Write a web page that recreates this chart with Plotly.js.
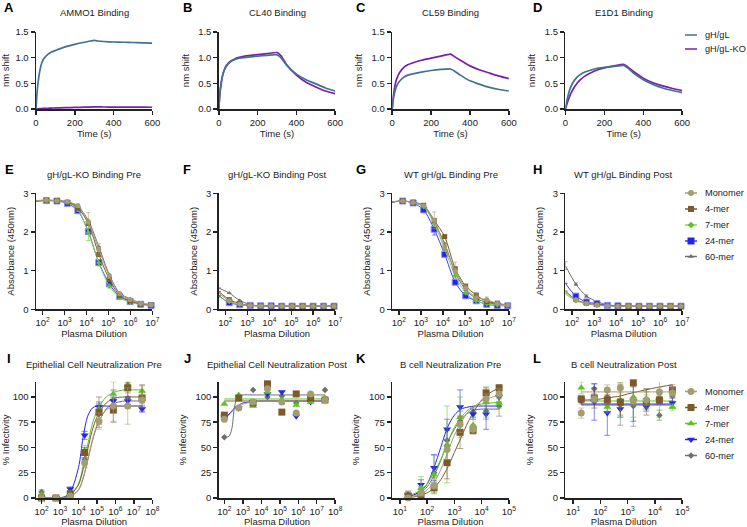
<!DOCTYPE html>
<html>
<head>
<meta charset="utf-8">
<script src="https://cdn.plot.ly/plotly-3.0.1.min.js"></script>
<style>
html,body{margin:0;padding:0;background:#ffffff;}
#chart{width:747px;height:527px;}
</style>
</head>
<body>
<div id="chart"></div>
<script>
// ================= DATA =================
// --- Row 1: BLI kinetics (nm shift vs time, s)
const kinTime = [0,5,10,20,30,40,60,80,100,150,200,250,300,320,350,400,450,500,550,600];
const kinNames = ['gH/gL','gH/gL-KO'];
const ammo1_gHgL = [0,0.3,0.5,0.75,0.9,0.98,1.06,1.11,1.14,1.21,1.26,1.30,1.335,1.325,1.315,1.305,1.30,1.295,1.29,1.285];
const ammo1_KO   = [0,0.003,0.005,0.008,0.01,0.012,0.015,0.018,0.02,0.025,0.03,0.035,0.04,0.04,0.039,0.038,0.037,0.036,0.035,0.034];
const cl40_gHgL  = [0,0.28,0.45,0.66,0.77,0.84,0.92,0.96,0.985,1.01,1.03,1.045,1.055,1.0,0.85,0.68,0.57,0.49,0.41,0.35];
const cl40_KO    = [0,0.26,0.43,0.66,0.78,0.85,0.93,0.97,1.0,1.04,1.06,1.08,1.10,1.04,0.86,0.66,0.52,0.43,0.35,0.30];
const cl59_gHgL  = [0,0.17,0.28,0.42,0.50,0.55,0.62,0.66,0.68,0.72,0.75,0.77,0.78,0.74,0.66,0.55,0.48,0.42,0.38,0.35];
const cl59_KO    = [0,0.22,0.36,0.55,0.65,0.72,0.81,0.86,0.89,0.95,0.99,1.03,1.07,1.02,0.95,0.84,0.76,0.70,0.64,0.59];
const e1d1_gHgL  = [0,0.11,0.20,0.35,0.45,0.52,0.62,0.68,0.72,0.78,0.81,0.83,0.85,0.80,0.70,0.57,0.48,0.41,0.36,0.32];
const e1d1_KO    = [0,0.06,0.12,0.23,0.32,0.39,0.50,0.58,0.64,0.74,0.80,0.84,0.87,0.82,0.73,0.60,0.51,0.45,0.40,0.36];
const timeTicks = [0,200,400,600];
const shiftTicks = [0,0.5,1,1.5];

// --- Series (rows 2 and 3)
const seriesNames = ['Monomer','4-mer','7-mer','24-mer','60-mer'];

// --- Row 2: ELISA absorbance (450nm) vs plasma dilution
const elisaDil = [50,150,450,1350,4050,12150,36450,109350,328050,984150,2952450,8857350];
// E: gH/gL-KO Binding Pre
const eMon   = [2.81,2.82,2.81,2.78,2.68,2.25,1.55,0.86,0.40,0.25,0.15,0.12];
const eFour  = [2.81,2.82,2.81,2.77,2.62,2.22,1.42,0.78,0.36,0.22,0.14,0.11];
const eSeven = [2.80,2.81,2.80,2.76,2.58,1.98,1.20,0.60,0.30,0.18,0.12,0.10];
const e24    = [2.79,2.81,2.80,2.74,2.55,2.01,1.21,0.66,0.33,0.20,0.13,0.10];
const e60    = [2.81,2.82,2.81,2.78,2.66,2.30,1.62,0.90,0.42,0.27,0.16,0.12];
const eMonErr   = [0,0,0,0,0.05,0.25,0.15,0.06,0.04,0.04,0,0];
const eSevenErr = [0,0,0,0,0.05,0.20,0.08,0.05,0,0,0,0];
// F: gH/gL-KO Binding Post
const fMon   = [0.42,0.22,0.14,0.10,0.09,0.09,0.08,0.08,0.08,0.08,0.08,0.08];
const fFour  = [0.46,0.25,0.15,0.10,0.09,0.09,0.08,0.08,0.08,0.08,0.08,0.08];
const fSeven = [0.32,0.20,0.13,0.10,0.09,0.09,0.08,0.08,0.08,0.08,0.08,0.08];
const f24    = [0.35,0.17,0.12,0.10,0.09,0.09,0.08,0.08,0.08,0.08,0.08,0.08];
const f60    = [0.55,0.42,0.23,0.12,0.09,0.09,0.08,0.08,0.08,0.08,0.08,0.08];
// G: WT gH/gL Binding Pre
const gMon   = [2.78,2.80,2.76,2.68,2.30,1.62,1.00,0.55,0.30,0.25,0.15,0.11];
const gFour  = [2.78,2.80,2.77,2.69,2.30,1.88,1.05,0.60,0.37,0.20,0.16,0.10];
const gSeven = [2.78,2.80,2.76,2.65,2.22,1.55,0.87,0.42,0.22,0.14,0.11,0.10];
const g24    = [2.77,2.80,2.75,2.57,2.07,1.42,0.70,0.35,0.22,0.13,0.10,0.09];
const g60    = [2.78,2.80,2.76,2.66,2.25,1.70,0.95,0.50,0.28,0.18,0.13,0.11];
const gMonErr  = [0,0,0,0,0.22,0.1,0.22,0.08,0.1,0.07,0.03,0];
const g24Err   = [0,0,0,0,0.15,0.05,0.05,0,0,0,0,0];
// H: WT gH/gL Binding Post
const hMon   = [0.45,0.24,0.15,0.11,0.09,0.08,0.08,0.08,0.08,0.08,0.08,0.08];
const hFour  = [0.47,0.25,0.16,0.12,0.10,0.09,0.08,0.08,0.08,0.08,0.08,0.08];
const hSeven = [0.40,0.22,0.14,0.10,0.09,0.08,0.08,0.08,0.08,0.08,0.08,0.08];
const h24    = [0.67,0.34,0.19,0.15,0.10,0.09,0.08,0.08,0.08,0.08,0.08,0.08];
const h60    = [1.13,0.65,0.34,0.20,0.12,0.09,0.08,0.08,0.08,0.08,0.08,0.08];
const h60Err = [0.1,0.03,0.03,0,0,0,0,0,0,0,0,0];
const elisaTickVals = [1e2,1e3,1e4,1e5,1e6,1e7];
const elisaTickText = ['10<sup>2</sup>','10<sup>3</sup>','10<sup>4</sup>','10<sup>5</sup>','10<sup>6</sup>','10<sup>7</sup>'];
const absTicks = [0,1,2,3];

// --- Row 3: Neutralization (% infectivity) vs plasma dilution
const epiDil = [100,600,3600,21600,129600,777600,4665600,27993600];
const epiFitLog = [2,2.5,3,3.5,4,4.25,4.5,4.75,5,5.5,6,6.5,7,7.45];
const jFitLog   = [2,2.25,2.4,2.55,2.7,3,3.5,4,5,6,7,7.45];
// I: Epithelial Cell Neutralization Pre
const iMon   = [0,0,2,35,76,91,91,97];
const iFour  = [0,0,4,45,85,87,109,99];
const iSeven = [3,0,5,47,88,103,112,106];
const i24    = [0,0,9,62,90,96,96,88];
const i60    = [6,0,4,38,83,97,99,99];
const iMonErr   = [0,0,2,5,8,15,18,5];
const iFourErr  = [0,0,2,5,15,12,5,13];
const iSevenErr = [3,0,2,5,5,12,3,5];
const i24Err    = [0,0,2,4,5,4,4,3];
const i60Err    = [2,0,2,5,10,10,10,5];
const iMonFit   = [0,0,0,1,8,20,38,57,72,87,91,91,91,91];
const iFourFit  = [0,0,0,2,13,28,48,67,80,94,99,100,100,100];
const iSevenFit = [0,0,0,2,14,31,53,73,86,100,105,107,107,107];
const i24Fit    = [0,0,0,4,30,60,81,89,91,91,91,91,91,91];
const i60Fit    = [0,0,0,1,8,19,37,56,71,88,94,96,96,96];
// J: Epithelial Cell Neutralization Post
const jMon   = [78,89,95,108,95,84,103,97];
const jFour  = [82,99,94,113,85,103,99,97];
const jSeven = [93,102,91,105,97,92,95,99];
const j24    = [80,89,95,103,105,81,95,97];
const j60    = [60,89,107,100,101,94,97,107];
const jMonFit   = [78,82,85,88,90,93,95,96,96,96,96,96];
const jFourFit  = [96,96,96,96,96,96,96,96,96,96,96,96];
const jSevenFit = [98,98,98,98,98,98,98,98,98,98,98,98];
const j24Fit    = [79,83,86,89,91,94,95,96,96,96,96,96];
const j60Fit    = [60,61,68,90,100,102,102,102,102,102,102,102];
// K: B cell Neutralization Pre
const bDil = [20,60,180,540,1620,4860,14580,43740];
const bFitLog = [1.3,1.5,1.78,2,2.25,2.5,2.75,3,3.25,3.5,3.75,4,4.3,4.64];
const kMon   = [0,5,12,48,73,68,98,103];
const kFour  = [2,3,10,35,65,67,104,109];
const kSeven = [2,10,23,53,80,72,95,94];
const k24    = [3,13,30,68,90,83,83,100];
const k60    = [3,6,25,57,76,85,86,91];
const kMonErr   = [2,3,3,10,8,5,5,5];
const kFourErr  = [2,3,5,16,16,3,5,3];
const kSevenErr = [2,11,19,38,20,8,15,5];
const k24Err    = [3,5,13,10,17,5,15,5];
const k60Err    = [4,5,5,10,10,5,8,10];
const kMonFit   = [1,2,4,8,15,28,45,62,75,85,91,96,99,102];
const kFourFit  = [1,1,3,5,10,18,30,45,60,75,87,97,104,109];
const kSevenFit = [2,4,8,14,25,38,55,70,80,87,91,93,94,95];
const k24Fit    = [2,3,7,14,30,50,70,82,88,90,91,91,91,91];
const k60Fit    = [2,3,6,11,22,37,55,68,78,84,87,88,88,88];
// L: B cell Neutralization Post
const lMon   = [84,98,107,109,96,97,105,104];
const lFour  = [98,99,97,95,114,95,97,107];
const lSeven = [109,97,90,97,100,97,100,90];
const l24    = [97,95,84,88,96,90,96,94];
const l60    = [96,108,100,92,91,98,82,101];
const lMonErr   = [5,3,5,5,4,5,4,5];
const lFourErr  = [3,10,5,13,4,13,3,5];
const lSevenErr = [6,3,6,17,20,8,20,3];
const l24Err    = [2,18,22,8,20,4,3,5];
const l60Err    = [3,5,6,20,20,10,5,5];
const lMonFit   = [105,105,105,105,105,105,105,105,105,105,105,105,105,105];
const lFourFit  = [97,97,97.5,98,99,100,101,103,104.5,106,107.5,109,110.5,112];
const lSevenFit = [96,96,96,96,96,96,96,96,96,96,96,96,96,96];
const l24Fit    = [93,93,93,93,93,93,93,93,93,93,93,93,93,93];
const l60Fit    = [92,92,92,92,92,92,92,92,92,92,92,92,92,92];
const epiTickVals = [1e2,1e3,1e4,1e5,1e6,1e7,1e8];
const epiTickText = ['10<sup>2</sup>','10<sup>3</sup>','10<sup>4</sup>','10<sup>5</sup>','10<sup>6</sup>','10<sup>7</sup>','10<sup>8</sup>'];
const bTickVals = [1e1,1e2,1e3,1e4,1e5];
const bTickText = ['10<sup>1</sup>','10<sup>2</sup>','10<sup>3</sup>','10<sup>4</sup>','10<sup>5</sup>'];
const infTicks = [0,25,50,75,100];

// Titles / labels
const panelLetters = ['A','B','C','D','E','F','G','H','I','J','K','L'];
const panelTitles = ['AMMO1 Binding','CL40 Binding','CL59 Binding','E1D1 Binding',
  'gH/gL-KO Binding Pre','gH/gL-KO Binding Post','WT gH/gL Binding Pre','WT gH/gL Binding Post',
  'Epithelial Cell Neutralization Pre','Epithelial Cell Neutralization Post','B cell Neutralization Pre','B cell Neutralization Post'];

// ================= STYLE / LAYOUT =================
const FONT = '"Liberation Sans", Arial, Helvetica, sans-serif';
const INK = '#222222';
const W = 747, H = 527;
const colL = [36, 218.8, 392.2, 565.4];
const colR = [152.3, 335.2, 508.9, 682.2];
const rowT = [32, 193.3, 381.8];
const rowB = [109, 309.3, 498];
const letterX = [9, 187, 361, 537];
const letterY = [8, 169, 358];
const titleY = [12, 175, 364];

const kinColors = ['#41728f', '#7a1fa8'];
const serColors = ['#a59d72', '#7c5a2c', '#5cc422', '#2424f0', '#6e6e6e'];
const elisaLineColors = ['#a59d72', '#7c5a2c', '#86d456', '#3a3af5', '#6e6e6e'];
const elisaSymbols = ['circle', 'square', 'diamond', 'square', 'triangle-up'];
const elisaSizes = [5, 5, 4, 6, 4];
const neutSymbols = ['circle', 'square', 'triangle-up', 'triangle-down', 'diamond'];
const neutSizes = [7, 7, 7, 7, 5];

function rgba(hex, a) {
  const v = parseInt(hex.slice(1), 16);
  return 'rgba(' + ((v >> 16) & 255) + ',' + ((v >> 8) & 255) + ',' + (v & 255) + ',' + a + ')';
}
const pow10 = arr => arr.map(v => Math.pow(10, v));

const layout = {
  width: W, height: H,
  margin: {l: 0, r: 0, t: 0, b: 0, pad: 0},
  paper_bgcolor: '#ffffff',
  plot_bgcolor: 'rgba(0,0,0,0)',
  showlegend: false,
  hovermode: false,
  font: {family: FONT, size: 9.5, color: INK},
  annotations: []
};
const axBase = {
  showline: true, linecolor: INK, linewidth: 1.5,
  ticks: 'outside', ticklen: 4, tickwidth: 1.5, tickcolor: INK,
  showgrid: false, zeroline: false, fixedrange: true, automargin: false,
  tickfont: {family: FONT, size: 9.5, color: INK}
};
function axId(n) { return n === 1 ? '' : String(n); }
function makeAxes(n, row, col, xopt, yopt, xtitle, ytitle) {
  const id = axId(n);
  layout['xaxis' + id] = Object.assign({}, axBase, {
    domain: [colL[col] / W, colR[col] / W], anchor: 'y' + id,
    title: {text: xtitle, font: {family: FONT, size: 9.5, color: INK}, standoff: 3}
  }, xopt);
  layout['yaxis' + id] = Object.assign({}, axBase, {
    domain: [1 - rowB[row] / H, 1 - rowT[row] / H], anchor: 'x' + id,
    title: {text: ytitle, font: {family: FONT, size: 9.5, color: INK}, standoff: 7}
  }, yopt);
}

const traces = [];

// ---- Row 1
const kinPanels = [[ammo1_gHgL, ammo1_KO], [cl40_gHgL, cl40_KO], [cl59_gHgL, cl59_KO], [e1d1_gHgL, e1d1_KO]];
kinPanels.forEach((pair, c) => {
  const n = c + 1, id = axId(n);
  makeAxes(n, 0, c, {range: [0, 600], tickvals: timeTicks},
    {range: [0, 1.5], tickvals: shiftTicks, tickformat: '.1f'}, 'Time (s)', 'nm shift');
  [1, 0].forEach(s => traces.push({
    type: 'scatter', mode: 'lines', x: kinTime, y: pair[s], name: kinNames[s],
    xaxis: 'x' + id, yaxis: 'y' + id, cliponaxis: false,
    line: {color: kinColors[s], width: 1.7, shape: 'spline', smoothing: 0.5}
  }));
});

// ---- Row 2
const zeros12 = elisaDil.map(() => 0);
const elisaPanels = [
  {y: [eMon, eFour, eSeven, e24, e60], err: [eMonErr, zeros12, eSevenErr, zeros12, zeros12]},
  {y: [fMon, fFour, fSeven, f24, f60], err: [zeros12, zeros12, zeros12, zeros12, zeros12]},
  {y: [gMon, gFour, gSeven, g24, g60], err: [gMonErr, zeros12, zeros12, g24Err, zeros12]},
  {y: [hMon, hFour, hSeven, h24, h60], err: [zeros12, zeros12, zeros12, zeros12, h60Err]}
];
const elisaOrder = [4, 3, 2, 1, 0];
elisaPanels.forEach((p, c) => {
  const n = 5 + c, id = axId(n);
  makeAxes(n, 1, c, {type: 'log', range: [1.7, 7], tickvals: elisaTickVals, ticktext: elisaTickText},
    {range: [0, 3], tickvals: absTicks}, 'Plasma Dilution', 'Absorbance (450nm)');
  elisaOrder.forEach(s => traces.push({
    type: 'scatter', mode: 'lines+markers', x: elisaDil, y: p.y[s], name: seriesNames[s],
    xaxis: 'x' + id, yaxis: 'y' + id, cliponaxis: false,
    line: {color: elisaLineColors[s], width: 1, shape: 'spline', smoothing: 0.8},
    marker: {symbol: elisaSymbols[s], size: elisaSizes[s], color: serColors[s],
      line: {width: s === 3 ? 1 : 0, color: '#8c8cff'}},
    error_y: {type: 'data', array: p.err[s], visible: true, color: rgba(serColors[s], 0.6), thickness: 1, width: 2}
  }));
});

// ---- Row 3
const neutPanels = [
  {x: epiDil, fx: pow10(epiFitLog), xr: [1.7, 8], tv: epiTickVals, tt: epiTickText,
   y: [iMon, iFour, iSeven, i24, i60], err: [iMonErr, iFourErr, iSevenErr, i24Err, i60Err],
   fit: [iMonFit, iFourFit, iSevenFit, i24Fit, i60Fit]},
  {x: epiDil, fx: pow10(jFitLog), xr: [1.7, 8], tv: epiTickVals, tt: epiTickText,
   y: [jMon, jFour, jSeven, j24, j60], err: null,
   fit: [jMonFit, jFourFit, jSevenFit, j24Fit, j60Fit]},
  {x: bDil, fx: pow10(bFitLog), xr: [0.72, 5], tv: bTickVals, tt: bTickText,
   y: [kMon, kFour, kSeven, k24, k60], err: [kMonErr, kFourErr, kSevenErr, k24Err, k60Err],
   fit: [kMonFit, kFourFit, kSevenFit, k24Fit, k60Fit]},
  {x: bDil, fx: pow10(bFitLog), xr: [0.72, 5], tv: bTickVals, tt: bTickText,
   y: [lMon, lFour, lSeven, l24, l60], err: [lMonErr, lFourErr, lSevenErr, l24Err, l60Err],
   fit: [lMonFit, lFourFit, lSevenFit, l24Fit, l60Fit]}
];
const neutOrder = [4, 3, 2, 1, 0];
neutPanels.forEach((p, c) => {
  const n = 9 + c, id = axId(n);
  makeAxes(n, 2, c, {type: 'log', range: p.xr, tickvals: p.tv, ticktext: p.tt},
    {range: [0, 115], tickvals: infTicks}, 'Plasma Dilution', '% Infectivity');
  neutOrder.forEach(s => traces.push({
    type: 'scatter', mode: 'lines', x: p.fx, y: p.fit[s], name: seriesNames[s] + ' fit',
    xaxis: 'x' + id, yaxis: 'y' + id, cliponaxis: false,
    line: {color: serColors[s], width: 1, shape: 'spline', smoothing: 0.8}
  }));
  neutOrder.forEach(s => {
    const t = {
      type: 'scatter', mode: 'markers', x: p.x, y: p.y[s], name: seriesNames[s],
      xaxis: 'x' + id, yaxis: 'y' + id, cliponaxis: false,
      marker: {symbol: neutSymbols[s], size: neutSizes[s], color: serColors[s], line: {width: 0}}
    };
    if (p.err) t.error_y = {type: 'data', array: p.err[s], visible: true, color: rgba(serColors[s], 0.55), thickness: 1, width: 3};
    traces.push(t);
  });
});

// ---- Letters and titles
panelLetters.forEach((L, i) => {
  const r = Math.floor(i / 4), c = i % 4;
  layout.annotations.push({text: '<b>' + L + '</b>', xref: 'paper', yref: 'paper',
    x: letterX[c] / W, y: 1 - letterY[r] / H, xanchor: 'center', yanchor: 'middle', showarrow: false,
    font: {family: FONT, size: 13, color: '#000'}});
  layout.annotations.push({text: panelTitles[i], xref: 'paper', yref: 'paper',
    x: (colL[c] + colR[c]) / 2 / W, y: 1 - titleY[r] / H, xanchor: 'center', yanchor: 'middle', showarrow: false,
    font: {family: FONT, size: 9.5, color: INK}});
});

// ---- Custom legends (overlay pixel axes)
layout.xaxis13 = {domain: [0, 1], range: [0, W], visible: false, fixedrange: true, anchor: 'y13'};
layout.yaxis13 = {domain: [0, 1], range: [H, 0], visible: false, fixedrange: true, anchor: 'x13'};
const legX0 = 685, legX1 = 697, legTextX = 703;
const legTopRows = [35, 49];
const legMidRows = [193, 209, 225, 241, 256.5];
const legBotRows = [391.5, 407.5, 423.5, 439.5, 455.5];
function legEntry(row, lineColor, sym, size, mcolor, label) {
  traces.push({type: 'scatter', mode: 'lines', x: [legX0, legX1], y: [row, row], xaxis: 'x13', yaxis: 'y13',
    cliponaxis: false, line: {color: lineColor, width: 1.5}});
  if (sym) traces.push({type: 'scatter', mode: 'markers', x: [(legX0 + legX1) / 2], y: [row], xaxis: 'x13', yaxis: 'y13',
    cliponaxis: false, marker: {symbol: sym, size: size, color: mcolor}});
  layout.annotations.push({text: label, xref: 'x13', yref: 'y13', x: legTextX, y: row,
    xanchor: 'left', yanchor: 'middle', showarrow: false, font: {family: FONT, size: 9.2, color: INK}});
}
kinNames.forEach((nm, s) => legEntry(legTopRows[s], kinColors[s], null, 0, null, nm));
seriesNames.forEach((nm, s) => legEntry(legMidRows[s], elisaLineColors[s], elisaSymbols[s], elisaSizes[s] + 1, serColors[s], nm));
seriesNames.forEach((nm, s) => legEntry(legBotRows[s], serColors[s], neutSymbols[s], neutSizes[s], serColors[s], nm));

Plotly.newPlot('chart', traces, layout, {staticPlot: true, displayModeBar: false});
</script>
</body>
</html>
